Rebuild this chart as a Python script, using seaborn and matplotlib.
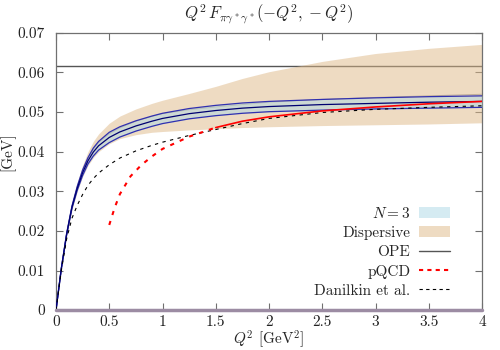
import matplotlib
matplotlib.use("Agg")
import matplotlib.pyplot as plt
import seaborn as sns
from matplotlib.lines import Line2D
from matplotlib.patches import Patch
from matplotlib.ticker import FuncFormatter, MultipleLocator

# ── data ──
q2 = [0, 0.05, 0.1, 0.15, 0.2, 0.25, 0.3, 0.35, 0.4, 0.5, 0.6, 0.75, 0.9, 1.0,
      1.25, 1.5, 1.75, 2.0, 2.5, 3.0, 3.5, 4.0]

n3_central = [0, 0.0105, 0.0192, 0.0260, 0.0308, 0.0347, 0.0377, 0.0399, 0.0415, 0.0436, 0.0450,
              0.0465, 0.0477, 0.0484, 0.0496, 0.0504, 0.0510, 0.0514, 0.0519, 0.0522, 0.0525, 0.0527]
n3_upper = [0, 0.0106, 0.0194, 0.0263, 0.0313, 0.0354, 0.0385, 0.0409, 0.0426, 0.0449, 0.0463,
            0.0478, 0.0490, 0.0497, 0.0509, 0.0517, 0.0523, 0.0527, 0.0532, 0.0536, 0.0539, 0.0541]
n3_lower = [0, 0.0104, 0.0190, 0.0257, 0.0303, 0.0340, 0.0369, 0.0389, 0.0404, 0.0423, 0.0437,
            0.0452, 0.0464, 0.0471, 0.0483, 0.0491, 0.0497, 0.0501, 0.0505, 0.0508, 0.0510, 0.0512]

disp_upper = [0, 0.0108, 0.0198, 0.0270, 0.0323, 0.0366, 0.0400, 0.0426, 0.0445, 0.0472, 0.0490,
              0.0508, 0.0522, 0.0530, 0.0547, 0.0565, 0.0585, 0.0602, 0.0628, 0.0648, 0.0661, 0.0671]
disp_lower = [0, 0.0102, 0.0186, 0.0253, 0.0300, 0.0337, 0.0365, 0.0385, 0.0400, 0.0420, 0.0433,
              0.0443, 0.0449, 0.0451, 0.0455, 0.0458, 0.0461, 0.0463, 0.0466, 0.0468, 0.0470, 0.0473]
disp_central = [0, 0.0105, 0.0193, 0.0262, 0.0312, 0.0352, 0.0383, 0.0406, 0.0423, 0.0445, 0.0460,
                0.0477, 0.0489, 0.0496, 0.0506, 0.0513, 0.0519, 0.0525, 0.0532, 0.0537, 0.0541, 0.0545]

danilkin = [0, 0.0100, 0.0180, 0.0232, 0.0265, 0.0292, 0.0315, 0.0332, 0.0346, 0.0367, 0.0384,
            0.0402, 0.0416, 0.0424, 0.0441, 0.0456, 0.0471, 0.0484, 0.0499, 0.0507, 0.0512, 0.0516]

q2_pqcd = [0.5, 0.55, 0.6, 0.7, 0.8, 0.9, 1.0, 1.25, 1.5, 1.75, 2.0, 2.5, 3.0, 3.5, 4.0]
pqcd = [0.0215, 0.0258, 0.0293, 0.0338, 0.0366, 0.0388, 0.0407, 0.0438, 0.0461, 0.0477,
        0.0488, 0.0503, 0.0513, 0.0521, 0.0527]

ope_value = 0.0616

# ── style ──
sns.set_theme(style="ticks")
plt.rcParams.update({
    "font.family": "serif",
    "font.serif": ["cmr10"],
    "mathtext.fontset": "cm",
    "axes.formatter.use_mathtext": True,
})

GRAY = "#707070"
BAND_N3 = "#add8e6"
BAND_DISP = "#deb887"

fig = plt.figure(figsize=(5, 3.5), dpi=100)
ax = fig.add_axes([0.112, 0.114, 0.852, 0.792])

# OPE asymptote (under the bands)
ax.axhline(ope_value, color="#555555", lw=1.0, zorder=1)

# dispersive band
ax.fill_between(q2, disp_lower, disp_upper, color=BAND_DISP, alpha=0.5, lw=0, zorder=2)
sns.lineplot(x=q2, y=disp_central, ax=ax, color="#bfae98", lw=0.7, zorder=3)

# N = 3 band
ax.fill_between(q2, n3_lower, n3_upper, color=BAND_N3, alpha=0.5, lw=0, zorder=4)
sns.lineplot(x=q2, y=n3_upper, ax=ax, color="#3030b0", lw=0.9, zorder=5)
sns.lineplot(x=q2, y=n3_lower, ax=ax, color="#3030b0", lw=0.9, zorder=5)
sns.lineplot(x=q2, y=n3_central, ax=ax, color="#000070", lw=0.9, zorder=5)

# Danilkin et al.
sns.lineplot(x=q2, y=danilkin, ax=ax, color="black", lw=0.8,
             linestyle=(0, (3, 4)), zorder=6)

# pQCD: dashes look solid once the curve flattens
n_dash = sum(1 for v in q2_pqcd if v <= 1.5)
sns.lineplot(x=q2_pqcd[:n_dash], y=pqcd[:n_dash], ax=ax, color="red", lw=1.5,
             linestyle=(0, (2, 3)), zorder=7)
sns.lineplot(x=q2_pqcd[n_dash - 1:], y=pqcd[n_dash - 1:], ax=ax, color="red", lw=1.2,
             zorder=7)

# zero line along the bottom
ax.axhline(0, color="#9c8ca3", lw=2.5, zorder=8, clip_on=False)

# ── axes ──
ax.set_xlim(0, 4)
ax.set_ylim(0, 0.07)
ax.xaxis.set_major_locator(MultipleLocator(0.5))
ax.yaxis.set_major_locator(MultipleLocator(0.01))
fmt = FuncFormatter(lambda v, _: f"{v:g}")
ax.xaxis.set_major_formatter(fmt)
ax.yaxis.set_major_formatter(fmt)
ax.tick_params(direction="in", top=True, right=True, length=5, width=0.8,
               color=GRAY, labelsize=11, labelcolor="#222222")
ax.tick_params(axis="x", pad=4)
ax.tick_params(axis="y", pad=8)
for sp in ax.spines.values():
    sp.set_visible(True)
    sp.set_color(GRAY)
    sp.set_linewidth(0.9)

ax.set_title(r"$Q^2\,F_{\pi\gamma^*\gamma^*}(-Q^2,-Q^2)$", fontsize=12, pad=10)
ax.set_xlabel(r"$Q^2$ [GeV$^2$]", fontsize=11, labelpad=-1)
ax.set_ylabel("[GeV]", fontsize=11)
ax.yaxis.set_label_coords(-0.095, 0.57)

handles = [
    Patch(facecolor=BAND_N3, alpha=0.5, edgecolor="none"),
    Patch(facecolor=BAND_DISP, alpha=0.5, edgecolor="none"),
    Line2D([], [], color="#555555", lw=1.0),
    Line2D([], [], color="red", lw=1.5, linestyle=(0, (2, 2))),
    Line2D([], [], color="black", lw=0.8, linestyle=(0, (3, 3))),
]
labels = [r"$N=3$", "Dispersive", "OPE", "pQCD", "Danilkin et al."]
ax.legend(handles, labels, loc="lower right", bbox_to_anchor=(0.925, 0.045),
          markerfirst=False, frameon=False, fontsize=11, borderpad=0,
          borderaxespad=0, labelspacing=0.35, handlelength=2.0, handletextpad=0.6)

fig.savefig("out.png", dpi=100)
